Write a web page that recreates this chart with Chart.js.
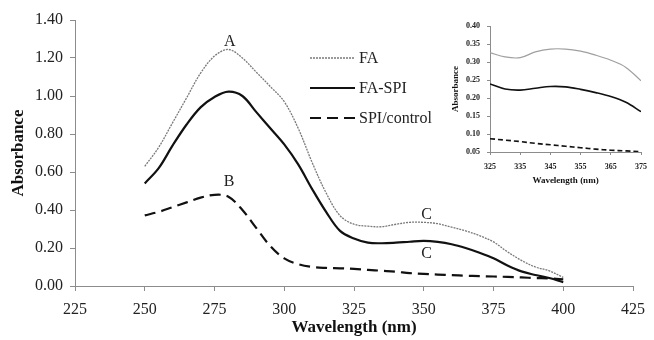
<!DOCTYPE html>
<html>
<head>
<meta charset="utf-8">
<title>Absorbance spectra</title>
<script src="https://cdn.jsdelivr.net/npm/chart.js@4.4.1/dist/chart.umd.min.js"></script>
<style>
  body { margin: 0; background: #fff; }
  #wrap { position: relative; width: 654px; height: 340px; }
  #main { position: absolute; left: 0; top: 0; }
  #inset { position: absolute; left: 440px; top: 0; }
</style>
</head>
<body>
<div id="wrap">
  <canvas id="main" width="654" height="340"></canvas>
  <canvas id="inset" width="214" height="190"></canvas>
</div>
<script>
'use strict';

// main spectrum, 250-400 nm every 5 nm
var wavelengths = [250, 255, 260, 265, 270, 275, 280, 285, 290, 295, 300, 305, 310, 315, 320, 325,
  330, 335, 340, 345, 350, 355, 360, 365, 370, 375, 380, 385, 390, 395, 400];

var faValues = [0.63, 0.73, 0.86, 0.99, 1.12, 1.21, 1.245, 1.20, 1.125, 1.05, 0.97, 0.83, 0.65, 0.49, 0.37, 0.325,
  0.315, 0.312, 0.325, 0.335, 0.335, 0.328, 0.31, 0.29, 0.265, 0.232, 0.18, 0.135, 0.10, 0.08, 0.045];

var faSpiValues = [0.54, 0.62, 0.74, 0.85, 0.94, 0.995, 1.023, 1.0, 0.915, 0.83, 0.745, 0.64, 0.51, 0.39, 0.29, 0.25,
  0.228, 0.225, 0.228, 0.233, 0.237, 0.232, 0.22, 0.20, 0.175, 0.146, 0.108, 0.077, 0.058, 0.042, 0.02];

var spiValues = [0.372, 0.39, 0.415, 0.44, 0.465, 0.48, 0.47, 0.40, 0.305, 0.21, 0.145, 0.115, 0.10, 0.095, 0.093, 0.09,
  0.085, 0.08, 0.075, 0.068, 0.064, 0.06, 0.057, 0.054, 0.052, 0.05, 0.048, 0.045, 0.042, 0.04, 0.035];

// inset, 325-375 nm
var insetWavelengths = [325, 330, 335, 340, 345, 350, 355, 360, 365, 370, 375];
var insetFa = [0.326, 0.314, 0.312, 0.328, 0.336, 0.336, 0.33, 0.319, 0.305, 0.285, 0.248];
var insetFaSpi = [0.239, 0.225, 0.222, 0.227, 0.232, 0.231, 0.224, 0.215, 0.204, 0.188, 0.162];
var insetSpi = [0.087, 0.083, 0.079, 0.074, 0.070, 0.066, 0.062, 0.058, 0.055, 0.053, 0.051];

var seriesNames = ['FA', 'FA-SPI', 'SPI/control'];

// peak letters, in data units
var peakLabels = [
  { text: 'A', x: 280.5, y: 1.285 },
  { text: 'B', x: 280.2, y: 0.55 },
  { text: 'C', x: 351, y: 0.375 },
  { text: 'C', x: 351, y: 0.168 }
];

var SERIF = '"Liberation Serif", "Times New Roman", serif';
var AXIS_GREY = '#8c8c8c';

function toPoints(xs, ys) {
  return xs.map(function(x, i) {
    return { x: x, y: ys[i] };
  });
}

function lineStyles(inset) {
  return [
    { borderColor: inset ? '#a0a0a0' : '#7a7a7a', borderWidth: inset ? 1.2 : 1.3, borderDash: inset ? [] : [2, 1] },
    { borderColor: '#111', borderWidth: inset ? 1.6 : 2.2, borderDash: [] },
    { borderColor: '#111', borderWidth: inset ? 1.6 : 2.2, borderDash: inset ? [5, 3] : [11, 6] }
  ];
}

function buildDatasets(xs, seriesList, inset) {
  var styles = lineStyles(inset);
  return seriesList.map(function(ys, i) {
    return {
      label: seriesNames[i],
      data: toPoints(xs, ys),
      borderColor: styles[i].borderColor,
      borderWidth: styles[i].borderWidth,
      borderDash: styles[i].borderDash,
      pointRadius: 0,
      tension: 0.35,
      fill: false
    };
  });
}

// legend and peak letters for the main chart
var mainDecor = {
  id: 'mainDecor',
  afterDatasetsDraw: function(chart) {
    var ctx = chart.ctx;
    var xs = chart.scales.x;
    var ys = chart.scales.y;
    var styles = lineStyles(false);

    ctx.save();
    ctx.fillStyle = '#222';
    ctx.font = '16px ' + SERIF;
    ctx.textAlign = 'center';
    ctx.textBaseline = 'middle';
    peakLabels.forEach(function(p) {
      ctx.fillText(p.text, xs.getPixelForValue(p.x), ys.getPixelForValue(p.y));
    });

    ctx.textAlign = 'left';
    seriesNames.forEach(function(name, i) {
      var y = 58 + i * 30;
      ctx.beginPath();
      ctx.strokeStyle = styles[i].borderColor;
      ctx.lineWidth = styles[i].borderWidth;
      ctx.setLineDash(styles[i].borderDash);
      ctx.moveTo(310, y);
      ctx.lineTo(355, y);
      ctx.stroke();
      ctx.setLineDash([]);
      ctx.fillText(name, 359, y + 1);
    });
    ctx.restore();
  }
};

function axisOptions(opt) {
  return {
    type: 'linear',
    min: opt.min,
    max: opt.max,
    border: { color: AXIS_GREY, width: 1 },
    grid: { drawOnChartArea: false, drawTicks: true, tickLength: opt.tickLength, color: AXIS_GREY },
    ticks: {
      stepSize: opt.step,
      padding: opt.padding,
      color: '#222',
      font: { family: SERIF, size: opt.fontSize, weight: opt.tickWeight || 'normal' },
      callback: opt.format
    },
    title: {
      display: true,
      text: opt.title,
      color: '#111',
      font: { family: SERIF, size: opt.titleSize, weight: 'bold' },
      padding: opt.titlePadding
    },
    afterFit: opt.afterFit
  };
}

function createMainChart() {
  var ctx = document.getElementById('main').getContext('2d');
  return new Chart(ctx, {
    type: 'line',
    data: { datasets: buildDatasets(wavelengths, [faValues, faSpiValues, spiValues], false) },
    options: {
      responsive: false,
      animation: false,
      layout: { padding: { left: 0, right: 14, top: 20, bottom: 0 } },
      plugins: { legend: { display: false }, tooltip: { enabled: false } },
      scales: {
        x: axisOptions({
          min: 225, max: 425, step: 25, tickLength: 5, padding: 9, fontSize: 16,
          format: function(v) { return v; },
          title: 'Wavelength (nm)', titleSize: 17, titlePadding: { top: 0, bottom: 2 },
          afterFit: function(scale) { scale.height = 54; }
        }),
        y: axisOptions({
          min: 0, max: 1.4, step: 0.2, tickLength: 5, padding: 7, fontSize: 16,
          format: function(v) { return v.toFixed(2); },
          title: 'Absorbance', titleSize: 17, titlePadding: { top: 8, bottom: 0 },
          afterFit: function(scale) { scale.width = 75; }
        })
      }
    },
    plugins: [mainDecor]
  });
}

function createInsetChart() {
  var ctx = document.getElementById('inset').getContext('2d');
  return new Chart(ctx, {
    type: 'line',
    data: { datasets: buildDatasets(insetWavelengths, [insetFa, insetFaSpi, insetSpi], true) },
    options: {
      responsive: false,
      animation: false,
      layout: { padding: { left: 0, right: 9, top: 26, bottom: 0 } },
      plugins: { legend: { display: false }, tooltip: { enabled: false } },
      scales: {
        x: axisOptions({
          min: 325, max: 375, step: 10, tickLength: 3, padding: 7, fontSize: 8, tickWeight: 'bold',
          format: function(v) { return v; },
          title: 'Wavelength (nm)', titleSize: 9, titlePadding: { top: 0, bottom: 4 },
          afterFit: function(scale) { scale.height = 38; }
        }),
        y: axisOptions({
          min: 0.05, max: 0.40, step: 0.05, tickLength: 3, padding: 7, fontSize: 8, tickWeight: 'bold',
          format: function(v) { return v.toFixed(2); },
          title: 'Absorbance', titleSize: 9, titlePadding: { top: 10, bottom: 0 },
          afterFit: function(scale) { scale.width = 50; }
        })
      }
    }
  });
}

createMainChart();
createInsetChart();
</script>
</body>
</html>
